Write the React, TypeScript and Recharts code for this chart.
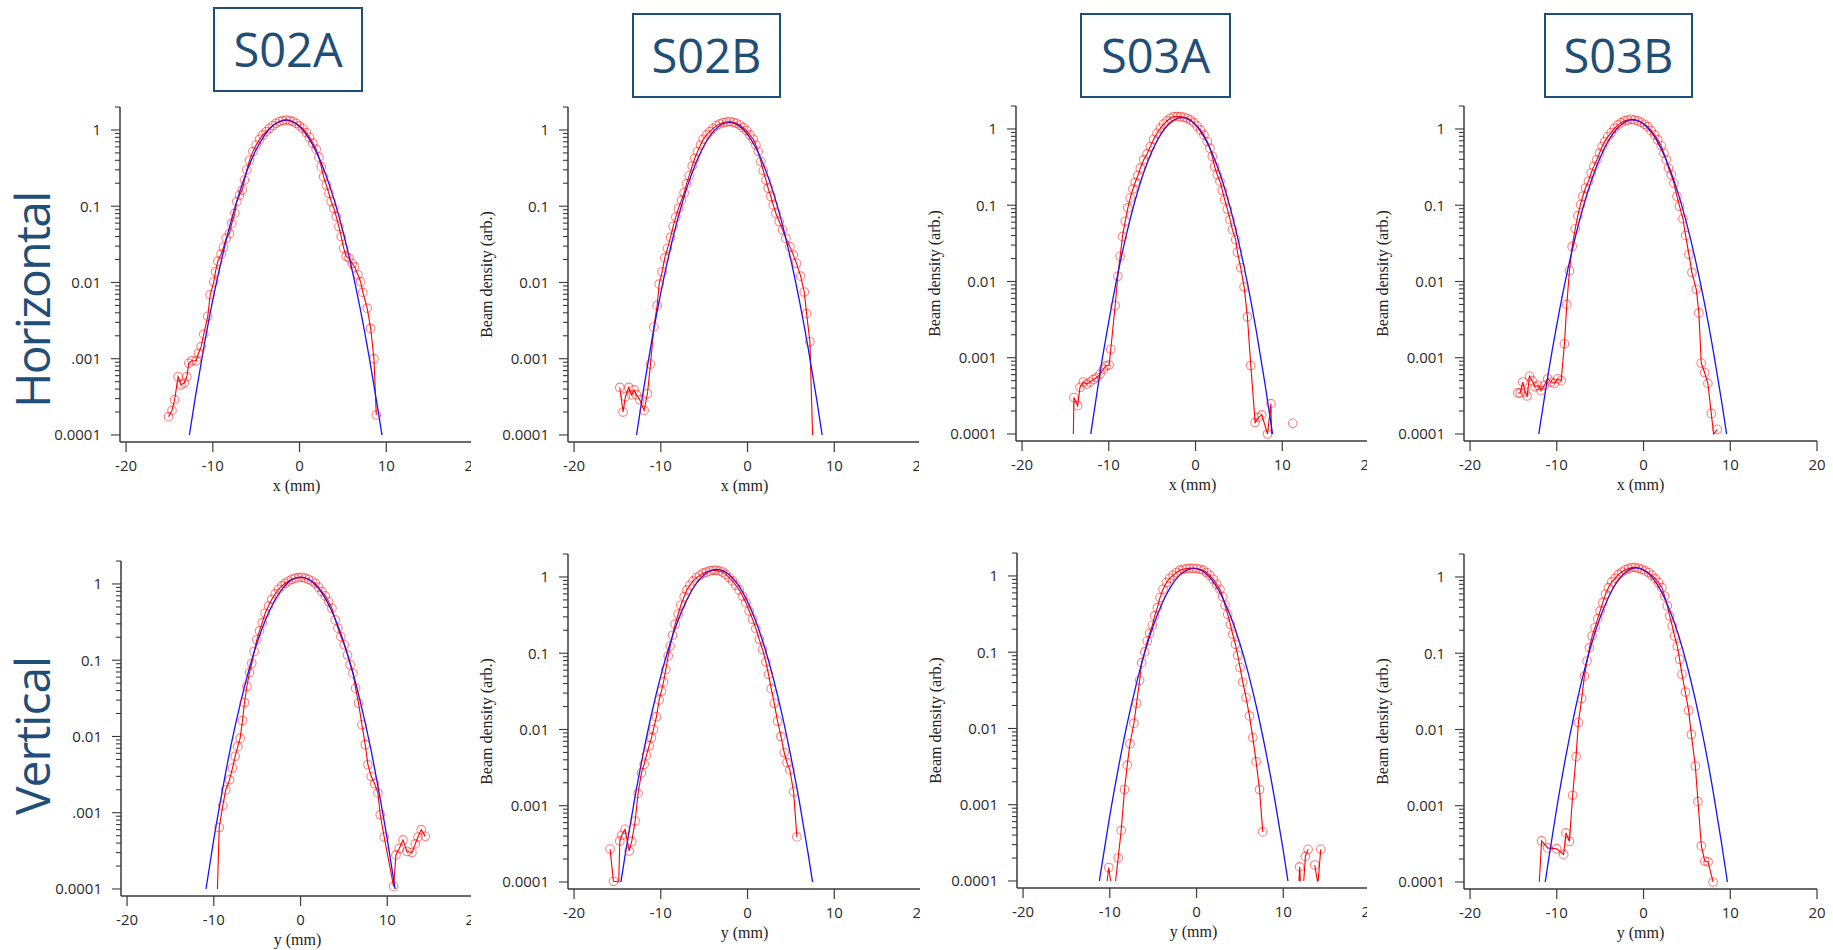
import React from 'react';
import { LineChart, Line, XAxis, YAxis } from 'recharts';

type Pt = [number, number | null, number?];

// ---------- text / ticks ----------
const TITLES = ['S02A', 'S02B', 'S03A', 'S03B'];
const ROW_LABELS = ['Horizontal', 'Vertical'];
const X_TICKS = [-20, -10, 0, 10, 20];
const Y_MAJOR = [0.0001, 0.001, 0.01, 0.1, 1];
const Y_MAJOR_LABELS = ['0.0001', '0.001', '0.01', '0.1', '1'];
const Y_MAJOR_LABELS_SHORT = ['0.0001', '.001', '0.01', '0.1', '1'];
const Y_MINOR_MULT = [2, 3, 4, 5, 6, 7, 8, 9];
const Y_TOP_MINOR = [2];
const X_LABEL_H = 'x (mm)';
const X_LABEL_V = 'y (mm)';
const Y_LABEL = 'Beam density (arb.)';

// ---------- data: [position mm, density, 0 = no marker] ----------
const S02A_H_DATA: Pt[] = [
  [-15.1, 1.74e-4], [-14.7, 2.1e-4], [-14.4, 2.9e-4], [-14.0, 5.8e-4], [-13.65, 4.55e-4], [-13.3, 4.8e-4],
  [-13.0, 5.8e-4], [-12.77, 8.7e-4], [-12.4, 9.4e-4], [-11.9, 9.4e-4], [-11.65, 1.18e-3], [-11.35, 1.44e-3],
  [-11.04, 2.1e-3], [-10.58, 3.6e-3], [-10.3, 6.9e-3], [-9.88, 0.0102], [-9.7, 0.0138], [-9.42, 0.019],
  [-9.04, 0.0235], [-8.77, 0.0289], [-8.46, 0.038], [-8.08, 0.044], [-7.8, 0.06], [-7.46, 0.081],
  [-7.23, 0.115], [-6.92, 0.14], [-6.6, 0.163], [-6.35, 0.22], [-6.08, 0.3], [-5.77, 0.4], [-5.38, 0.52],
  [-5.0, 0.635], [-4.6, 0.755], [-4.23, 0.86], [-3.85, 0.95], [-3.46, 1.05], [-3.08, 1.14], [-2.7, 1.22],
  [-2.3, 1.29], [-1.92, 1.33], [-1.54, 1.35], [-1.15, 1.33], [-0.77, 1.29], [-0.38, 1.22], [0, 1.13],
  [0.38, 1.05], [0.77, 0.92], [1.15, 0.8], [1.54, 0.67], [1.92, 0.56], [2.23, 0.44], [2.5, 0.33],
  [2.77, 0.244], [3.08, 0.19], [3.38, 0.148], [3.65, 0.115], [3.96, 0.094], [4.23, 0.073], [4.54, 0.054],
  [4.8, 0.04], [5.1, 0.028], [5.38, 0.022], [5.7, 0.021], [6.08, 0.0178], [6.35, 0.016], [6.73, 0.0126],
  [7.04, 0.0102], [7.3, 0.0074], [7.8, 0.0046], [8.2, 0.0025], [8.58, 0.001], [8.85, 1.83e-4],
];
const S02A_H_FIT: Pt[] = [
  [-12.7, 1.0e-4], [-12, 3.2e-4], [-11, 1.48e-3], [-10, 5.9e-3], [-9, 0.0197], [-8, 0.0573], [-7, 0.142],
  [-6, 0.303], [-5, 0.553], [-4, 0.865], [-3, 1.16], [-2, 1.33], [-1.6, 1.35], [-1, 1.31], [0, 1.11],
  [1, 0.8], [2, 0.497], [3, 0.264], [4, 0.12], [5, 0.0469], [6, 0.0157], [7, 4.49e-3], [8, 1.1e-3],
  [9, 2.3e-4], [9.5, 1.0e-4],
];

const S02B_H_DATA: Pt[] = [
  [-14.73, 4.2e-4], [-14.35, 2.0e-4], [-14.08, 3.2e-4], [-13.69, 4.2e-4], [-13.38, 3.35e-4], [-13.08, 3.9e-4],
  [-12.8, 3.35e-4], [-12.42, 2.9e-4], [-11.92, 2.1e-4], [-11.54, 3.5e-4], [-11.19, 8.5e-4], [-10.8, 2.6e-3],
  [-10.42, 5.0e-3], [-10.19, 9.5e-3], [-9.85, 0.0138], [-9.54, 0.021], [-9.23, 0.028], [-8.88, 0.039],
  [-8.58, 0.054], [-8.27, 0.072], [-7.96, 0.094], [-7.62, 0.12], [-7.31, 0.15], [-7.04, 0.196],
  [-6.73, 0.25], [-6.38, 0.337], [-6.08, 0.425], [-5.77, 0.52], [-5.42, 0.635], [-5.12, 0.755],
  [-4.73, 0.86], [-4.35, 0.95], [-3.96, 1.05], [-3.58, 1.14], [-3.19, 1.2], [-2.81, 1.25], [-2.42, 1.27],
  [-2.04, 1.29], [-1.65, 1.26], [-1.27, 1.22], [-0.88, 1.16], [-0.5, 1.07], [-0.12, 0.98], [0.27, 0.86],
  [0.65, 0.755], [0.96, 0.635], [1.23, 0.52], [1.54, 0.385], [1.81, 0.293], [2.12, 0.22], [2.38, 0.172],
  [2.69, 0.134], [2.96, 0.104], [3.27, 0.081], [3.65, 0.063], [4.04, 0.049], [4.42, 0.038], [4.88, 0.0295],
  [5.27, 0.023], [5.65, 0.0178], [6.12, 0.0121], [6.54, 0.0075], [6.81, 0.0039], [7.19, 1.67e-3],
  [7.5, 1.0e-4, 0],
];
const S02B_H_FIT: Pt[] = [
  [-12.8, 1.0e-4], [-12, 3.9e-4], [-11, 1.84e-3], [-10, 7.3e-3], [-9, 0.0249], [-8, 0.0714], [-7, 0.174],
  [-6, 0.359], [-5, 0.63], [-4, 0.935], [-3, 1.18], [-2.1, 1.26], [-1, 1.14], [0, 0.875], [1, 0.57],
  [2, 0.315], [3, 0.148], [4, 0.0586], [5, 0.0197], [6, 5.6e-3], [7, 1.36e-3], [8, 2.8e-4], [8.6, 1.0e-4],
];

const S03A_H_DATA: Pt[] = [
  [-14.09, 1e-4, 0], [-14.02, 3.0e-4], [-13.59, 2.35e-4], [-13.32, 4.1e-4], [-12.93, 4.8e-4], [-12.55, 4.5e-4],
  [-12.16, 4.8e-4], [-11.78, 5.2e-4], [-11.39, 5.5e-4], [-11.0, 6.1e-4], [-10.62, 7.1e-4], [-10.31, 7.8e-4],
  [-9.96, 8.0e-4], [-9.77, 1.29e-3], [-9.27, 4.8e-3], [-8.96, 0.0117], [-8.69, 0.0214], [-8.42, 0.039],
  [-8.11, 0.0614], [-7.8, 0.092], [-7.53, 0.124], [-7.22, 0.163], [-6.95, 0.2], [-6.64, 0.245],
  [-6.37, 0.306], [-5.98, 0.394], [-5.6, 0.47], [-5.21, 0.587], [-4.83, 0.733], [-4.44, 0.877],
  [-4.05, 1.02], [-3.67, 1.16], [-3.28, 1.28], [-2.9, 1.38], [-2.51, 1.45], [-2.12, 1.45], [-1.74, 1.45],
  [-1.35, 1.42], [-0.97, 1.38], [-0.58, 1.31], [-0.19, 1.21], [0.19, 1.09], [0.58, 0.97], [0.97, 0.835],
  [1.35, 0.683], [1.66, 0.559], [1.93, 0.435], [2.2, 0.322], [2.51, 0.25], [2.82, 0.205], [3.09, 0.156],
  [3.36, 0.118], [3.67, 0.089], [3.98, 0.0646], [4.25, 0.0478], [4.63, 0.0354], [4.83, 0.0242],
  [5.21, 0.0151], [5.6, 8.5e-3], [5.98, 3.45e-3], [6.37, 7.9e-4], [6.87, 1.41e-4], [7.26, 1.65e-4],
  [7.64, 1.78e-4], [8.3, 1.0e-4], [8.69, 2.5e-4], [8.76, 1.0e-4, 0], [9.5, null], [11.2, 1.38e-4],
];
const S03A_H_FIT: Pt[] = [
  [-12.08, 1e-4], [-11, 6.5e-4], [-10, 3.0e-3], [-9, 0.012], [-8, 0.04], [-7, 0.112], [-6, 0.262],
  [-5, 0.516], [-4, 0.855], [-3, 1.19], [-2, 1.39], [-1.6, 1.41], [-1, 1.37], [0, 1.13], [1, 0.78],
  [2, 0.457], [3, 0.224], [4, 0.0923], [5, 0.0318], [6, 9.3e-3], [7, 2.26e-3], [8, 4.6e-4], [8.88, 1e-4],
];

const S03B_H_DATA: Pt[] = [
  [-14.5, 3.45e-4], [-14.23, 3.45e-4], [-13.92, 4.8e-4], [-13.65, 3.55e-4], [-13.42, 3.15e-4], [-13.15, 5.7e-4],
  [-12.85, 5.0e-4], [-12.5, 4.15e-4], [-12.19, 4.35e-4], [-11.81, 3.7e-4], [-11.42, 4.35e-4], [-11.04, 5.3e-4],
  [-10.65, 4.8e-4], [-10.27, 4.6e-4], [-9.88, 5.3e-4], [-9.5, 5.0e-4], [-9.12, 1.52e-3], [-8.85, 5.0e-3],
  [-8.54, 0.0138], [-8.23, 0.0287], [-7.88, 0.049], [-7.58, 0.073], [-7.27, 0.102], [-7.0, 0.131],
  [-6.69, 0.168], [-6.35, 0.206], [-6.04, 0.264], [-5.73, 0.323], [-5.38, 0.394], [-5.08, 0.482],
  [-4.77, 0.589], [-4.46, 0.684], [-4.12, 0.794], [-3.73, 0.896], [-3.35, 1.02], [-2.96, 1.13],
  [-2.58, 1.21], [-2.19, 1.28], [-1.81, 1.31], [-1.42, 1.34], [-1.04, 1.31], [-0.65, 1.28], [-0.27, 1.22],
  [0.12, 1.15], [0.5, 1.07], [0.88, 0.95], [1.27, 0.835], [1.65, 0.719], [2.04, 0.6], [2.35, 0.482],
  [2.62, 0.394], [2.88, 0.307], [3.19, 0.251], [3.5, 0.195], [3.85, 0.131], [4.15, 0.097], [4.54, 0.0664],
  [4.85, 0.0402], [5.23, 0.0227], [5.58, 0.0131], [6.08, 7.9e-3], [6.38, 3.87e-3], [6.65, 8.5e-4],
  [7.04, 6.4e-4], [7.42, 4.6e-4], [7.81, 1.86e-4], [8.08, 1.0e-4, 0], [8.5, 1.15e-4],
];
const S03B_H_FIT: Pt[] = [
  [-12.08, 1e-4], [-11, 6.1e-4], [-10, 2.7e-3], [-9, 0.0103], [-8, 0.0332], [-7, 0.0912], [-6, 0.213],
  [-5, 0.423], [-4, 0.716], [-3, 1.03], [-2, 1.26], [-1.25, 1.32], [0, 1.16], [1, 0.875], [2, 0.561],
  [3, 0.306], [4, 0.142], [5, 0.0561], [6, 0.0188], [7, 5.4e-3], [8, 1.31e-3], [9, 2.7e-4], [9.58, 1e-4],
];

const S02A_V_DATA: Pt[] = [
  [-9.58, 1e-4, 0], [-9.38, 6.4e-4], [-8.96, 1.24e-3], [-8.62, 2.0e-3], [-8.19, 2.7e-3], [-7.85, 3.85e-3],
  [-7.54, 5.5e-3], [-7.23, 7.4e-3], [-6.96, 9.5e-3], [-6.69, 0.0162], [-6.46, 0.0279], [-6.19, 0.0452],
  [-5.88, 0.069], [-5.62, 0.0912], [-5.35, 0.13], [-5.04, 0.185], [-4.73, 0.242], [-4.42, 0.311],
  [-4.08, 0.413], [-3.69, 0.515], [-3.31, 0.63], [-2.92, 0.74], [-2.54, 0.851], [-2.15, 0.942],
  [-1.77, 1.02], [-1.38, 1.09], [-1.0, 1.15], [-0.62, 1.19], [-0.23, 1.21], [0.15, 1.22], [0.54, 1.19],
  [0.92, 1.15], [1.31, 1.09], [1.69, 1.02], [2.08, 0.904], [2.46, 0.793], [2.85, 0.697], [3.23, 0.587],
  [3.62, 0.48], [4.0, 0.338], [4.31, 0.263], [4.65, 0.204], [5.04, 0.159], [5.42, 0.117], [5.73, 0.0869],
  [6.04, 0.0676], [6.35, 0.043], [6.69, 0.0273], [7.08, 0.0142], [7.46, 7.8e-3], [7.77, 4.26e-3],
  [8.15, 3.0e-3], [8.54, 2.4e-3], [8.92, 1.82e-3], [9.19, 9.4e-4], [9.65, 4.8e-4], [10.73, 1.08e-4],
  [11.0, 2.8e-4], [11.38, 3.4e-4], [11.81, 4.4e-4], [12.27, 3.1e-4], [12.85, 3.0e-4], [13.23, 3.9e-4],
  [13.54, 4.8e-4], [13.92, 6.0e-4], [14.38, 4.9e-4],
];
const S02A_V_FIT: Pt[] = [
  [-10.9, 1e-4], [-10, 4.5e-4], [-9, 2.0e-3], [-8, 7.8e-3], [-7, 0.0254], [-6, 0.0711], [-5, 0.17],
  [-4, 0.347], [-3, 0.603], [-2, 0.895], [-1, 1.14], [0, 1.23], [1, 1.14], [2, 0.895], [3, 0.603],
  [4, 0.347], [5, 0.17], [6, 0.0711], [7, 0.0254], [8, 7.8e-3], [9, 2.0e-3], [10, 4.5e-4], [10.9, 1e-4],
];

const S02B_V_DATA: Pt[] = [
  [-15.85, 2.7e-4], [-15.46, 1.02e-4], [-14.85, 1.0e-4, 0], [-14.73, 3.45e-4], [-14.5, 4.1e-4], [-14.12, 4.9e-4],
  [-13.65, 2.55e-4], [-13.35, 3.4e-4], [-12.96, 6.3e-4], [-12.62, 1.45e-3], [-12.23, 2.7e-3], [-11.92, 3.5e-3],
  [-11.65, 4.6e-3], [-11.35, 6.1e-3], [-11.08, 7.8e-3], [-10.85, 0.01], [-10.5, 0.0147], [-10.19, 0.0244],
  [-9.92, 0.032], [-9.69, 0.042], [-9.42, 0.0615], [-9.15, 0.092], [-8.92, 0.124], [-8.65, 0.172],
  [-8.35, 0.24], [-8.0, 0.324], [-7.69, 0.425], [-7.31, 0.552], [-7.0, 0.676], [-6.65, 0.778],
  [-6.27, 0.887], [-5.88, 0.98], [-5.5, 1.05], [-5.12, 1.12], [-4.73, 1.16], [-4.35, 1.2], [-3.96, 1.22],
  [-3.65, 1.22], [-3.27, 1.2], [-2.88, 1.16], [-2.5, 1.08], [-2.12, 0.98], [-1.73, 0.887], [-1.35, 0.778],
  [-0.96, 0.676], [-0.58, 0.563], [-0.19, 0.46], [0.19, 0.358], [0.58, 0.279], [0.96, 0.21], [1.35, 0.152],
  [1.73, 0.112], [2.12, 0.0767], [2.42, 0.0528], [2.73, 0.0343], [3.08, 0.022], [3.46, 0.0129],
  [3.85, 8.1e-3], [4.23, 4.97e-3], [4.54, 3.67e-3], [4.88, 2.95e-3], [5.31, 1.52e-3], [5.69, 3.9e-4],
];
const S02B_V_FIT: Pt[] = [
  [-14.6, 1e-4], [-14, 2.7e-4], [-13, 1.26e-3], [-12, 5.0e-3], [-11, 0.0172], [-10, 0.0504], [-9, 0.126],
  [-8, 0.272], [-7, 0.501], [-6, 0.791], [-5, 1.07], [-4, 1.24], [-3.55, 1.26], [-3, 1.23], [-2, 1.04],
  [-1, 0.762], [0, 0.475], [1, 0.254], [2, 0.116], [3, 0.0456], [4, 0.0153], [5, 4.4e-3], [6, 1.09e-3],
  [7, 2.3e-4], [7.5, 1e-4],
];

const S03A_V_DATA: Pt[] = [
  [-10.31, 1e-4, 0], [-10.12, 1.5e-4], [-9.92, 1e-4, 0], [-9.6, null], [-9.34, 1e-4, 0], [-9.03, 2.0e-4],
  [-8.69, 4.6e-4], [-8.3, 1.58e-3], [-7.99, 3.3e-3], [-7.68, 6.3e-3], [-7.22, 0.0117], [-6.91, 0.0214],
  [-6.56, 0.0428], [-6.33, 0.073], [-5.98, 0.101], [-5.68, 0.14], [-5.41, 0.177], [-5.1, 0.225],
  [-4.83, 0.299], [-4.52, 0.384], [-4.21, 0.52], [-3.86, 0.668], [-3.47, 0.818], [-3.09, 0.932],
  [-2.7, 1.02], [-2.32, 1.11], [-1.93, 1.19], [-1.54, 1.22], [-1.16, 1.25], [-0.77, 1.26], [-0.39, 1.26],
  [0, 1.25], [0.39, 1.22], [0.77, 1.19], [1.16, 1.11], [1.54, 1.02], [1.93, 0.904], [2.32, 0.778],
  [2.7, 0.668], [3.01, 0.536], [3.28, 0.412], [3.59, 0.314], [3.9, 0.232], [4.17, 0.172], [4.48, 0.127],
  [4.75, 0.0912], [5.02, 0.0628], [5.33, 0.0407], [5.71, 0.0254], [6.1, 0.0146], [6.49, 7.6e-3],
  [6.87, 3.67e-3], [7.26, 1.58e-3], [7.64, 4.4e-4], [8, null], [11.81, 1e-4, 0], [11.89, 1.53e-4],
  [11.97, 1e-4, 0], [12.2, null], [12.36, 1e-4, 0], [12.55, 2.1e-4], [12.86, 2.6e-4], [13.2, null],
  [13.63, 1.62e-4], [13.94, 1e-4, 0], [14.02, 1e-4, 0], [14.32, 2.6e-4],
];
const S03A_V_FIT: Pt[] = [
  [-11.2, 1e-4], [-11, 1.41e-4], [-10, 7.2e-4], [-9, 3.1e-3], [-8, 0.0115], [-7, 0.036], [-6, 0.0966],
  [-5, 0.22], [-4, 0.43], [-3, 0.713], [-2, 1.01], [-1, 1.21], [-0.33, 1.26], [1, 1.09], [2, 0.816],
  [3, 0.519], [4, 0.281], [5, 0.13], [6, 0.0513], [7, 0.0172], [8, 4.9e-3], [9, 1.2e-3], [10, 2.5e-4],
  [10.54, 1e-4],
];

const S03B_V_DATA: Pt[] = [
  [-12.02, 1e-4, 0], [-11.75, 3.45e-4], [-11.06, 2.8e-4], [-10.02, 2.73e-4], [-9.21, 2.3e-4], [-8.94, 4.4e-4],
  [-8.55, 3.4e-4], [-8.17, 1.37e-3], [-7.78, 4.4e-3], [-7.51, 0.0123], [-7.13, 0.0254], [-6.82, 0.05],
  [-6.51, 0.079], [-6.24, 0.118], [-5.93, 0.168], [-5.59, 0.217], [-5.28, 0.284], [-5.01, 0.358],
  [-4.7, 0.46], [-4.39, 0.593], [-4.05, 0.724], [-3.66, 0.86], [-3.28, 0.96], [-2.89, 1.08], [-2.5, 1.16],
  [-2.12, 1.24], [-1.73, 1.29], [-1.35, 1.33], [-0.96, 1.33], [-0.58, 1.3], [-0.19, 1.26], [0.19, 1.2],
  [0.58, 1.14], [0.96, 1.05], [1.35, 0.95], [1.73, 0.843], [2.12, 0.724], [2.43, 0.563], [2.74, 0.417],
  [3.01, 0.308], [3.31, 0.228], [3.58, 0.168], [3.89, 0.124], [4.16, 0.0832], [4.43, 0.0528],
  [4.82, 0.031], [5.2, 0.0178], [5.51, 8.6e-3], [5.97, 3.32e-3], [6.28, 1.13e-3], [6.67, 2.97e-4],
  [7.05, 1.88e-4], [7.44, 1.83e-4], [8.02, 1.0e-4],
];
const S03B_V_FIT: Pt[] = [
  [-11.33, 1e-4], [-11, 1.79e-4], [-10, 9.4e-4], [-9, 4.2e-3], [-8, 0.0157], [-7, 0.0497], [-6, 0.132],
  [-5, 0.295], [-4, 0.555], [-3, 0.879], [-2, 1.17], [-0.83, 1.32], [0, 1.24], [1, 0.989], [2, 0.661],
  [3, 0.372], [4, 0.177], [5, 0.0706], [6, 0.0237], [7, 6.7e-3], [8, 1.6e-3], [9, 3.2e-4], [9.67, 1e-4],
];

// ---------- layout ----------
const W = 465;
const H = 402;
const ML = 97; // y-axis band width
const MT = 7;
const MR = 15;
const XH = 60;
const PW = W - ML - MR; // 353
const PH = H - MT - XH; // 335
const X_DOMAIN: [number, number] = [-20.7, 20];
const Y_DOMAIN: [number, number] = [8.09e-5, 2];
const AXIS = '#3a3a3a';
const TICK_TXT = '#2a2a2a';
const NAVY = '#1f4e79';
const SANS = "'Open Sans', 'DejaVu Sans', sans-serif";
const SERIF = "'Liberation Serif', 'DejaVu Serif', serif";

const Y_TICKS: number[] = [];
Y_MAJOR.forEach((m) => {
  Y_TICKS.push(m);
  if (m < 1) Y_MINOR_MULT.forEach((k) => Y_TICKS.push(+(m * k).toPrecision(3)));
});
Y_TOP_MINOR.forEach((t) => Y_TICKS.push(t * 0.999));

const rows = (pts: Pt[]) => pts.map(([x, v, m]) => ({ x, v, m: m === 0 ? 0 : 1 }));

const renderDot = (p: any) => {
  const { cx, cy, payload, index } = p;
  if (cx == null || cy == null || payload == null || payload.v == null || payload.m === 0) {
    return <g key={`n${index}`} />;
  }
  return (
    <circle key={`c${index}`} cx={cx} cy={cy} r={4.3} fill="none" stroke="#ff0000"
      strokeOpacity={0.5} strokeWidth={1.1} />
  );
};

const makeYTick = (labels: string[]) => (props: any) => {
  const { x, y, payload, index } = props;
  const v = payload.value as number;
  const mi = Y_MAJOR.findIndex((m) => Math.abs(Math.log10(v) - Math.log10(m)) < 1e-6);
  const major = mi >= 0;
  return (
    <g key={`yt${index}`}>
      <line x1={x - (major ? 9 : 5)} x2={x} y1={y} y2={y} stroke={AXIS} strokeWidth={1.1} />
      {major && (
        <text x={x - 19} y={y} dy="0.36em" textAnchor="end" fontFamily={SANS} fontSize={15} fill={TICK_TXT}>
          {labels[mi]}
        </text>
      )}
    </g>
  );
};

const XTick = (props: any) => {
  const { x, y, payload, index } = props;
  return (
    <g key={`xt${index}`}>
      <line x1={x} x2={x} y1={y} y2={y + 10} stroke={AXIS} strokeWidth={1.2} />
      <text x={x} y={y + 29} textAnchor="middle" fontFamily={SANS} fontSize={15} fill={TICK_TXT}>
        {payload.value}
      </text>
    </g>
  );
};

type PanelCfg = {
  data: Pt[];
  fit: Pt[];
  left: number;
  top: number;
  xLabel: string;
  showYLabel: boolean;
  labels: string[];
};

const PANELS: PanelCfg[] = [
  { data: S02A_H_DATA, fit: S02A_H_FIT, left: 23, top: 100, xLabel: X_LABEL_H, showYLabel: false, labels: Y_MAJOR_LABELS_SHORT },
  { data: S02B_H_DATA, fit: S02B_H_FIT, left: 471, top: 100, xLabel: X_LABEL_H, showYLabel: true, labels: Y_MAJOR_LABELS },
  { data: S03A_H_DATA, fit: S03A_H_FIT, left: 919, top: 99, xLabel: X_LABEL_H, showYLabel: true, labels: Y_MAJOR_LABELS },
  { data: S03B_H_DATA, fit: S03B_H_FIT, left: 1367, top: 99, xLabel: X_LABEL_H, showYLabel: true, labels: Y_MAJOR_LABELS },
  { data: S02A_V_DATA, fit: S02A_V_FIT, left: 24, top: 554, xLabel: X_LABEL_V, showYLabel: false, labels: Y_MAJOR_LABELS_SHORT },
  { data: S02B_V_DATA, fit: S02B_V_FIT, left: 471, top: 547, xLabel: X_LABEL_V, showYLabel: true, labels: Y_MAJOR_LABELS },
  { data: S03A_V_DATA, fit: S03A_V_FIT, left: 920, top: 546, xLabel: X_LABEL_V, showYLabel: true, labels: Y_MAJOR_LABELS },
  { data: S03B_V_DATA, fit: S03B_V_FIT, left: 1367, top: 547, xLabel: X_LABEL_V, showYLabel: true, labels: Y_MAJOR_LABELS },
];

const TITLE_BOXES = [
  { left: 213, top: 7, width: 150, height: 85 },
  { left: 632, top: 13, width: 149, height: 85 },
  { left: 1080, top: 13, width: 151, height: 85 },
  { left: 1544, top: 13, width: 149, height: 85 },
];

const ROW_BOXES = [
  { top: 170, height: 260, spacing: -1.7 },
  { top: 631, height: 210, spacing: -1 },
];

function Panel({ cfg }: { cfg: PanelCfg }) {
  const red = rows(cfg.data);
  const blue = rows(cfg.fit);
  const XLabel = () => (
    <text x={ML + PW / 2} y={MT + PH + 49} textAnchor="middle" fontFamily={SERIF} fontSize={16} fill="#222">
      {cfg.xLabel}
    </text>
  );
  const YLabel = () =>
    cfg.showYLabel ? (
      <text x={ML - 76} y={MT + PH / 2} textAnchor="middle" fontFamily={SERIF} fontSize={16} fill="#222"
        transform={`rotate(-90, ${ML - 76}, ${MT + PH / 2})`}>
        {Y_LABEL}
      </text>
    ) : (
      <g />
    );
  return (
    <div style={{ position: 'absolute', left: cfg.left, top: cfg.top, width: W, height: H, background: '#fff' }}>
      <LineChart width={W} height={H} margin={{ top: MT, right: MR, bottom: 0, left: 0 }}>
        <XAxis type="number" dataKey="x" domain={X_DOMAIN} allowDataOverflow ticks={X_TICKS} interval={0}
          height={XH} tickSize={0} tickMargin={0} tickLine={false} tick={XTick}
          axisLine={{ stroke: AXIS, strokeWidth: 1.5 }} label={XLabel} />
        <YAxis type="number" scale="log" domain={Y_DOMAIN} allowDataOverflow ticks={Y_TICKS} interval={0}
          width={ML} tickSize={0} tickMargin={0} tickLine={false} tick={makeYTick(cfg.labels)}
          axisLine={{ stroke: AXIS, strokeWidth: 1.5 }} label={YLabel} />
        <Line data={red} dataKey="v" type="linear" stroke="#ff0000" strokeWidth={1.1} dot={renderDot}
          connectNulls={false} isAnimationActive={false} />
        <Line data={blue} dataKey="v" type="monotone" stroke="#1414ff" strokeWidth={1.3} dot={false}
          isAnimationActive={false} />
      </LineChart>
    </div>
  );
}

export default function App() {
  return (
    <div style={{ position: 'absolute', left: 0, top: 0, width: 1833, height: 950, background: '#fff', overflow: 'hidden' }}>
      {PANELS.map((cfg, i) => (
        <Panel key={i} cfg={cfg} />
      ))}
      {ROW_BOXES.map((r, i) => (
        <div key={`row${i}`} style={{
          position: 'absolute', left: 4, top: r.top, width: 56, height: r.height,
          writingMode: 'vertical-rl', transform: 'rotate(180deg)', textAlign: 'center',
          fontFamily: SANS, fontSize: 48, lineHeight: '56px', letterSpacing: `${r.spacing}px`,
          color: NAVY, whiteSpace: 'nowrap',
        }}>
          {ROW_LABELS[i]}
        </div>
      ))}
      {TITLE_BOXES.map((b, i) => (
        <div key={i} style={{
          position: 'absolute', left: b.left, top: b.top, width: b.width, height: b.height,
          boxSizing: 'border-box', border: `2px solid ${NAVY}`, background: '#fff',
          display: 'flex', alignItems: 'center', justifyContent: 'center',
          fontFamily: SANS, fontSize: 47, color: NAVY, lineHeight: 1,
        }}>
          {TITLES[i]}
        </div>
      ))}
    </div>
  );
}
